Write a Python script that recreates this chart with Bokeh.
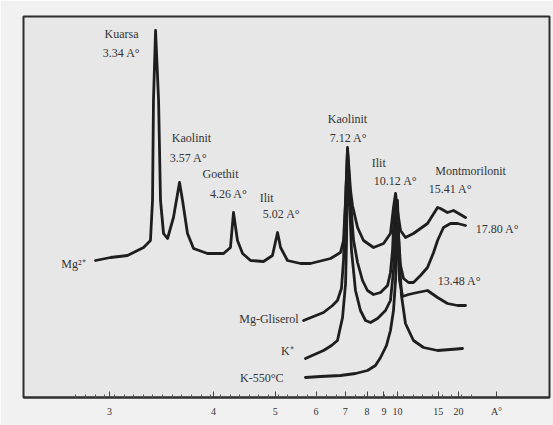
import math
from bokeh.plotting import figure
from bokeh.models import Range1d, FixedTicker, ColumnDataSource
from bokeh.core.properties import value
from bokeh.embed import file_html
from bokeh.resources import INLINE

# X: 2-theta (deg, Cu K-alpha), plotted reversed; Y: relative intensity
mg_tt = [30.77, 29.68, 28.45, 27.28, 26.78, 26.63, 26.56, 26.41, 26.19, 26.05, 25.83, 25.54,
         25.11, 24.67, 24.45, 24.09, 23.65, 22.64, 21.47, 20.97, 20.75, 20.46, 20.09, 19.51,
         18.57, 17.92, 17.55, 17.33, 16.83, 15.88, 15.16, 13.70, 12.98, 12.76, 12.61, 12.47,
         12.25, 12.11, 11.74, 11.31, 10.58, 9.85, 9.35, 9.13, 8.98, 8.84, 8.62, 8.26, 7.68,
         6.66, 5.93, 5.72, 5.21, 4.77, 3.90]
mg_int = [137, 140, 142, 150, 157, 197, 297, 367, 297, 197, 164, 159,
          180, 215, 197, 164, 149, 144, 144, 150, 185, 157, 144, 137,
          136, 142, 165, 150, 137, 134, 134, 139, 145, 157, 197, 250,
          207, 192, 170, 157, 150, 154, 164, 190, 204, 187, 167, 160, 164,
          174, 190, 189, 185, 187, 180]

gl_tt = [15.66, 14.94, 14.21, 13.56, 13.20, 12.91, 12.76, 12.61, 12.47, 12.25, 12.03, 11.74,
         11.38, 11.02, 10.58, 10.07, 9.56, 9.35, 9.20, 9.06, 8.91, 8.77, 8.62, 8.40, 8.04,
         7.68, 7.17, 6.66, 6.22, 5.93, 5.50, 4.99, 4.48, 3.90]
gl_int = [77, 81, 85, 92, 97, 109, 137, 197, 247, 197, 157, 135,
          117, 107, 103, 105, 112, 125, 147, 192, 197, 162, 132, 119, 115,
          115, 122, 130, 145, 157, 170, 174, 174, 172]

k_tt = [15.52, 14.87, 14.21, 13.63, 13.20, 12.83, 12.61, 12.54, 12.47, 12.32, 12.18, 11.89,
        11.53, 11.16, 10.80, 10.29, 9.71, 9.35, 9.13, 8.98, 8.84, 8.69, 8.47, 8.04, 7.39,
        6.66, 5.93, 5.21, 4.48, 3.90]
k_int = [39, 43, 47, 52, 57, 80, 114, 157, 237, 197, 147, 107,
         87, 77, 75, 79, 87, 97, 127, 189, 157, 117, 101, 103, 105,
         107, 100, 94, 92, 92]

k550_tt = [15.52, 14.43, 12.98, 11.89, 11.02, 10.44, 10.07, 9.64, 9.35, 9.13, 8.98, 8.91,
           8.84, 8.69, 8.55, 8.26, 7.68, 6.95, 5.93, 4.99, 4.12]
k550_int = [20, 21, 22, 24, 27, 32, 40, 52, 67, 87, 117, 157,
            197, 137, 102, 74, 57, 50, 47, 48, 49]

# Peak / curve annotations
lab_text = ["Kuarsa", "3.34 A°", "Kaolinit", "3.57 A°", "Goethit", "4.26 A°", "Ilit", "5.02 A°",
            "Kaolinit", "7.12 A°", "Ilit", "10.12 A°", "Montmorilonit", "15.41 A°",
            "17.80 A°", "13.48 A°", "Mg²⁺", "K-550°C"]
lab_tt = [28.88, 28.88, 23.80, 24.02, 21.69, 21.10, 18.34, 17.26,
          12.47, 12.40, 10.20, 8.98, 3.53, 4.99,
          1.58, 4.34, 32.37, 18.70]
lab_int = [364, 345, 260, 240, 224, 204, 200, 184,
           279, 260, 235, 217, 227, 209,
           169, 117, 134, 20]

side_text = ["Mg-Gliserol", "K⁺"]
side_tt = [16.02, 16.38]
side_int = [79, 47]

# Axis: d-spacing tick labels (Å)
tick_d = [3, 4, 5, 6, 7, 8, 9, 10, 15, 20]
tick_labels = ["3", "4", "5", "6", "7", "8", "9", "10", "15", "20"]
unit_tt = 1.65
unit_label = "A°"

WAVE = 1.5406
tick_tt = [round(2 * math.degrees(math.asin(WAVE / (2 * d))), 3) for d in tick_d]

p = figure(width=553, height=425, output_backend="svg", toolbar_location=None,
           x_range=Range1d(36.0, -2.2), y_range=Range1d(0, 381),
           y_axis_location=None, min_border_left=23, min_border_right=4,
           min_border_top=16, min_border_bottom=28)
p.background_fill_color = "#e7e7e7"
p.border_fill_color = "#f1f1f1"
p.outline_line_color = "#2e2e2e"
p.outline_line_width = 2
p.grid.visible = False

line_kw = dict(line_color="#1e1e1e", line_width=2.8, line_join="round", line_cap="round")
p.line(mg_tt, mg_int, **line_kw)
p.line(gl_tt, gl_int, **line_kw)
p.line(k_tt, k_int, **line_kw)
p.line(k550_tt, k550_int, **line_kw)

src = ColumnDataSource(dict(x=lab_tt, y=lab_int, t=lab_text))
p.text(x="x", y="y", text="t", source=src, text_font=value("Liberation Serif"),
       text_font_size="12px", text_color="#333333", text_align="center",
       text_baseline="middle")
src2 = ColumnDataSource(dict(x=side_tt, y=side_int, t=side_text))
p.text(x="x", y="y", text="t", source=src2, text_font=value("Liberation Serif"),
       text_font_size="12px", text_color="#333333", text_align="right",
       text_baseline="middle")

minor = [3.5 + 0.7 * i for i in range(42)]
ax = p.xaxis[0]
ax.ticker = FixedTicker(ticks=tick_tt + [unit_tt], minor_ticks=minor)
overrides = {t: l for t, l in zip(tick_tt, tick_labels)}
overrides[unit_tt] = unit_label
ax.major_label_overrides = overrides
ax.axis_line_color = "#2e2e2e"
ax.axis_line_width = 2
ax.major_tick_in = 6
ax.major_tick_out = 0
ax.minor_tick_in = 3
ax.minor_tick_out = 0
ax.major_tick_line_color = "#444444"
ax.minor_tick_line_color = "#555555"
ax.major_label_standoff = 8
ax.major_label_text_font = "Liberation Serif"
ax.major_label_text_font_size = "10px"
ax.major_label_text_color = "#333333"

open("out.html", "w").write(file_html(p, INLINE))
